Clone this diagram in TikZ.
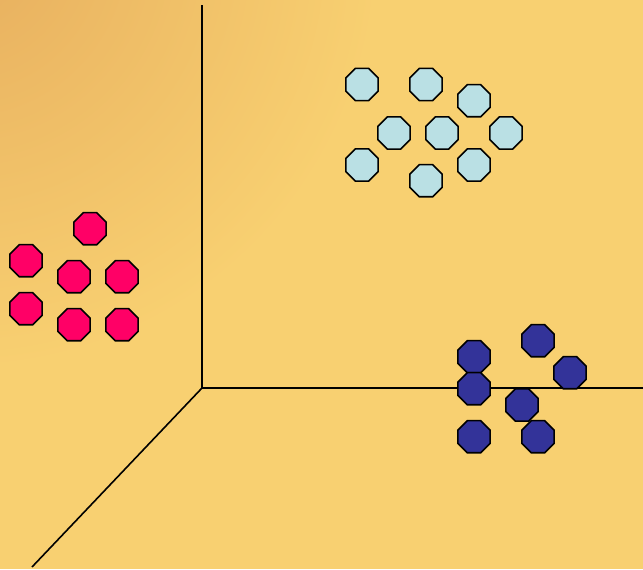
\documentclass[tikz,border=0pt]{standalone}
\usepackage{xcolor}
\usetikzlibrary{shapes.geometric}

\definecolor{bgyellow}{HTML}{F8D071}
\definecolor{bgorange}{HTML}{E7AE5E}
\definecolor{lightcyan}{HTML}{BAE0E4}
\definecolor{hotpink}{HTML}{FF0066}
\definecolor{navyblue}{HTML}{333399}

\tikzset{
  octo/.style={regular polygon, regular polygon sides=8,
               draw=black, line width=0.8pt, inner sep=0pt,
               minimum size=17.4pt},
  axis/.style={line width=0.8pt, black}
}

\begin{document}
\begin{tikzpicture}[x=0.5pt, y=-0.5pt]

  %% ── Background ─────────────────────────────────────────────
  \fill[bgyellow] (0, 0) rectangle (643, 569);
  \begin{scope}
    \clip (0, 0) rectangle (643, 569);
    \shade[inner color=bgorange, outer color=bgyellow]
      (-40, -50) circle (420);
  \end{scope}
  \useasboundingbox (0, 0) rectangle (643, 569);

  %% ── Axes ───────────────────────────────────────────────────
  \coordinate (origin) at (202, 388);
  \coordinate (ytop)   at (202, 5);
  \coordinate (xend)   at (643, 388);
  \coordinate (zend)   at (32, 567);

  \draw[axis] (ytop) -- (origin) -- (xend);
  \draw[axis] (origin) -- (zend);

  %% ── Cluster 1: light cyan (upper right) ────────────────────
  \node[octo, fill=lightcyan] (cy1) at (362, 84.5)  {};
  \node[octo, fill=lightcyan] (cy2) at (426, 84.5)  {};
  \node[octo, fill=lightcyan] (cy3) at (474, 100.7) {};
  \node[octo, fill=lightcyan] (cy4) at (394, 133)   {};
  \node[octo, fill=lightcyan] (cy5) at (442, 133)   {};
  \node[octo, fill=lightcyan] (cy6) at (506, 133)   {};
  \node[octo, fill=lightcyan] (cy7) at (362, 165)   {};
  \node[octo, fill=lightcyan] (cy8) at (426, 180.7) {};
  \node[octo, fill=lightcyan] (cy9) at (474, 165)   {};

  %% ── Cluster 2: pink (left) ─────────────────────────────────
  \node[octo, fill=hotpink] (pk1) at (90, 228.7)  {};
  \node[octo, fill=hotpink] (pk2) at (26, 260.7)  {};
  \node[octo, fill=hotpink] (pk3) at (74, 276.7)  {};
  \node[octo, fill=hotpink] (pk4) at (122, 276.7) {};
  \node[octo, fill=hotpink] (pk5) at (26, 308.7)  {};
  \node[octo, fill=hotpink] (pk6) at (74, 324.7)  {};
  \node[octo, fill=hotpink] (pk7) at (122, 324.7) {};

  %% ── Cluster 3: navy (lower right) ──────────────────────────
  \node[octo, fill=navyblue] (nv1) at (538, 340.7) {};
  \node[octo, fill=navyblue] (nv2) at (474, 356.7) {};
  \node[octo, fill=navyblue] (nv3) at (570, 372.7) {};
  \node[octo, fill=navyblue] (nv4) at (474, 388.7) {};
  \node[octo, fill=navyblue] (nv5) at (522, 405)   {};
  \node[octo, fill=navyblue] (nv6) at (474, 436.7) {};
  \node[octo, fill=navyblue] (nv7) at (538, 436.7) {};

\end{tikzpicture}
\end{document}
